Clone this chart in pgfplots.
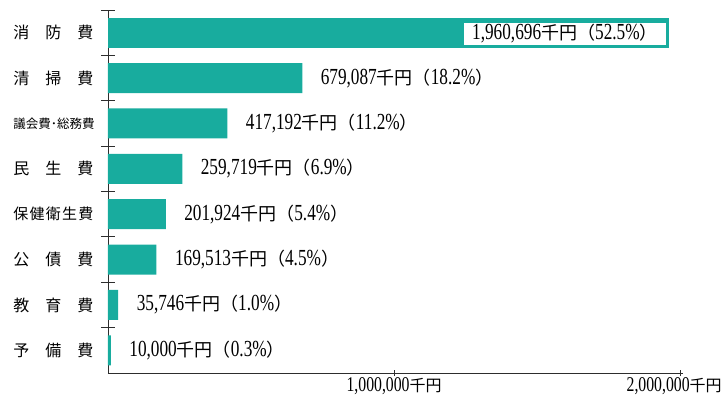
\documentclass[border=0pt]{standalone}
\usepackage{fontspec}
\setmainfont{Liberation Serif}[FakeStretch=0.75]
\newfontfamily\cjk{Noto Sans CJK JP}
\usepackage{pgfplots}
\pgfplotsset{compat=1.18}
\definecolor{barc}{RGB}{24,172,158}
\definecolor{axc}{RGB}{45,45,45}
\newcommand\lab[2]{\fontsize{23}{23}\selectfont#1{\cjk\fontsize{18}{18}\selectfont 千円（}#2\%{\cjk\fontsize{18}{18}\selectfont ）}}
\newcommand\cat[1]{\makebox[80pt][s]{#1}}
\newcommand\tl[1]{\fontsize{21}{21}\selectfont#1{\cjk\fontsize{16}{16}\selectfont 千円}}
\begin{document}
\begin{tikzpicture}
\path[use as bounding box] (-108pt,-28pt) rectangle (618pt,373pt);
\begin{axis}[
  at={(0,0)}, anchor=south west,
  scale only axis, width=575pt, height=363pt,
  xmin=0, xmax=2010000, ymin=-0.5, ymax=7.5,
  y dir=reverse,
  scaled x ticks=false,
  axis x line=bottom, axis y line=left,
  axis line style={-, axc, line width=0.9pt},
  tick style={axc, line width=0.9pt},
  tick align=center,
  xtick={1000000},
  xticklabels={{\tl{1,000,000}}},
  extra x ticks={2000000},
  extra x tick labels={{\tl{2,000,000}}},
  extra x tick style={xticklabel style={xshift=-6pt}},
  xticklabel style={inner sep=0pt, yshift=-2pt, text=black},
  x tick style={/pgfplots/major tick length=6pt},
  ytick={0,...,7},
  yticklabels={
    {\cjk\fontsize{16}{16}\selectfont\cat{消\hfill 防\hfill 費}},
    {\cjk\fontsize{16}{16}\selectfont\cat{清\hfill 掃\hfill 費}},
    {\cjk\fontsize{12.5}{12.5}\selectfont\cat{議\hfill 会\hfill 費\hfill ･\hfill 総\hfill 務\hfill 費}},
    {\cjk\fontsize{16}{16}\selectfont\cat{民\hfill 生\hfill 費}},
    {\cjk\fontsize{15}{15}\selectfont\cat{保\hfill 健\hfill 衛\hfill 生\hfill 費}},
    {\cjk\fontsize{16}{16}\selectfont\cat{公\hfill 債\hfill 費}},
    {\cjk\fontsize{16}{16}\selectfont\cat{教\hfill 育\hfill 費}},
    {\cjk\fontsize{16}{16}\selectfont\cat{予\hfill 備\hfill 費}}},
  y tick style={/pgfplots/major tick length=0pt},
  minor ytick={-0.5,0.5,...,6.5},
  minor y tick style={/pgfplots/minor tick length=14pt},
  yticklabel style={xshift=-9pt, text=black},
  clip=false,
]
\addplot[xbar, bar shift=0pt, bar width=30pt, fill=barc, draw=none,
  point meta=explicit symbolic,
  nodes near coords,
  nodes near coords style={anchor=east, fill=white, inner xsep=8pt, inner ysep=0pt,
    minimum height=22pt, xshift=-3pt, yshift=-1pt, text=black}]
  coordinates {(1960696,0) [{\lab{1,960,696}{52.5}}]};
\addplot[xbar, bar shift=0pt, bar width=30pt, fill=barc, draw=none,
  point meta=explicit symbolic,
  nodes near coords,
  nodes near coords style={anchor=west, xshift=15pt, text=black}]
  coordinates {
    (679087,1) [{\lab{679,087}{18.2}}]
    (417192,2) [{\lab{417,192}{11.2}}]
    (259719,3) [{\lab{259,719}{6.9}}]
    (201924,4) [{\lab{201,924}{5.4}}]
    (169513,5) [{\lab{169,513}{4.5}}]
    (35746,6) [{\lab{35,746}{1.0}}]
    (10000,7) [{\lab{10,000}{0.3}}]
  };
\end{axis}
\end{tikzpicture}
\end{document}
